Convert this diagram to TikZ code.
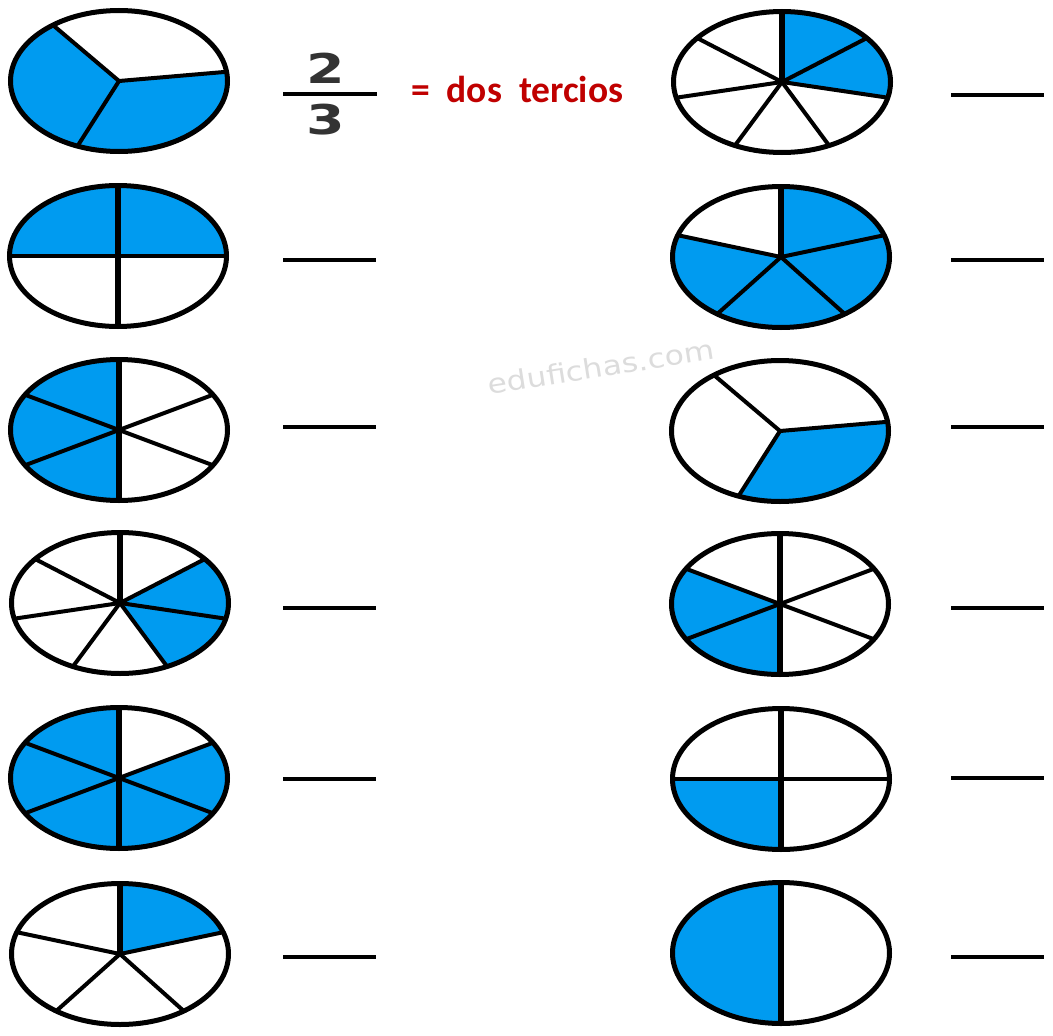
\documentclass[tikz,border=0pt]{standalone}
\usepackage{fontspec}
\newfontfamily\dejavu{DejaVu Sans}
\newfontfamily\carlito{Carlito}
\definecolor{pieblue}{RGB}{0,155,240}
\definecolor{darkred}{RGB}{192,0,0}
\definecolor{digitgray}{RGB}{51,51,51}
\definecolor{wmgray}{RGB}{220,220,220}
\tikzset{
  outline/.style={line width=5pt},
  spoke/.style={line width=4pt},
  thickspoke/.style={line width=5.6pt},
  answerline/.style={line width=4pt},
}
% #1 cx, #2 cy, #3 number of slices, #4 first spoke angle, #5 filled slices, #6 extra code
\newcommand\mypie[6]{%
  \begin{scope}[shift={(#1,#2)},xscale=108.5,yscale=-70.5]
    \foreach \k in {#5}{\fill[pieblue] (0,0) -- ({#4-\k*360/#3}:1) arc[start angle={#4-\k*360/#3}, delta angle={-360/#3}, radius=1] -- cycle;}
    \foreach \k in {1,...,#3}{\draw[spoke] (0,0) -- ({#4-\k*360/#3}:1);}
    #6
    \draw[outline] (0,0) circle[radius=1];
  \end{scope}}
\newcommand\thickup{\draw[thickspoke] (0,0) -- (90:1);}
\newcommand\thickboth{\draw[thickspoke] (90:1) -- (-90:1);}
\begin{document}
\begin{tikzpicture}[x=1pt,y=-1pt]
\fill[white] (0,0) rectangle (1053,1036);
\useasboundingbox (0,0) rectangle (1053,1036);

% watermark
\node[font=\dejavu\fontsize{27}{27}\selectfont, text=wmgray, rotate=9, xscale=1.16, inner sep=0] (wm) at (601,367) {edufichas.com};

% pies, left column
\mypie{119}{81}{3}{127.5}{1,2}{}
\mypie{118}{256}{4}{90}{0,3}{\thickboth}
\mypie{119}{430}{6}{90}{3,4,5}{\thickboth}
\mypie{120}{603}{7}{90}{1,2}{\thickup}
\mypie{119}{778}{6}{90}{1,2,3,4,5}{\thickboth}
\mypie{120}{954}{5}{90}{0}{\thickup}

% pies, right column
\mypie{782}{82}{7}{90}{0,1}{\thickup}
\mypie{781}{257}{5}{90}{0,1,2,3}{\thickup}
\mypie{780}{431}{3}{127.5}{1}{}
\mypie{780}{604}{6}{90}{3,4}{\thickboth}
\mypie{781}{779}{4}{90}{2}{\thickboth}
\mypie{781}{953}{2}{90}{1}{\thickboth}

% example fraction
\node[font=\dejavu\bfseries\fontsize{41}{41}\selectfont, text=digitgray, xscale=1.35, inner sep=0] (num) at (326,68) {2};
\node[font=\dejavu\bfseries\fontsize{41}{41}\selectfont, text=digitgray, xscale=1.35, inner sep=0] (den) at (326,120) {3};
\draw[answerline] (283,94) -- (377,94);
\node[font=\carlito\bfseries\fontsize{37.5}{37.5}\selectfont, text=darkred, anchor=base west, inner sep=0] (txt) at (411,102) {=~~dos~~tercios};

% answer lines, left column
\foreach \y in {260,427,608,779,957}{\draw[answerline] (283,\y) -- (376,\y);}
% answer lines, right column
\foreach \y in {95,260,427,608,778,957}{\draw[answerline] (951,\y) -- (1044,\y);}
\end{tikzpicture}
\end{document}
